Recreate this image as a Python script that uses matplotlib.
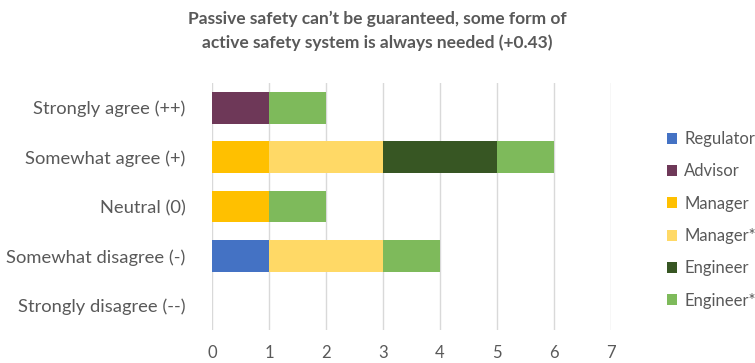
import numpy as np
import matplotlib
matplotlib.use("Agg")
import matplotlib.pyplot as plt

plt.rcParams["font.family"] = ["Lato", "DejaVu Sans"]

categories = ["Strongly agree (++)", "Somewhat agree (+)", "Neutral (0)",
              "Somewhat disagree (-)", "Strongly disagree (--)"]
roles = ["Regulator", "Advisor", "Manager", "Manager*", "Engineer", "Engineer*"]

# counts per role, ordered like categories
regulator = [0, 0, 0, 1, 0]
advisor = [1, 0, 0, 0, 0]
manager = [0, 1, 1, 0, 0]
manager_star = [0, 2, 0, 2, 0]
engineer = [0, 2, 0, 0, 0]
engineer_star = [1, 1, 1, 1, 0]

colors = ["#4472C4", "#6E3858", "#FFC000", "#FFD966", "#375623", "#7EBA5B"]
series = [regulator, advisor, manager, manager_star, engineer, engineer_star]

fig = plt.figure(figsize=(7.55, 3.63), dpi=100)
ax = fig.add_axes([212 / 755, 1 - 330 / 363, 399 / 755, 247 / 363])

y = np.arange(len(categories))
left = np.zeros(len(categories))
for name, vals, col in zip(roles, series, colors):
    vals = np.array(vals, dtype=float)
    ax.barh(y, vals, left=left, height=0.64, color=col, label=name, zorder=3)
    left += vals

ax.set_ylim(len(categories) - 0.5, -0.5)
ax.set_xlim(0, 7)
ax.set_xticks(range(8))
ax.set_yticks(y)
ax.set_yticklabels(categories)
ax.xaxis.grid(True, color="#D9D9D9", linewidth=1, zorder=0)
for s in ax.spines.values():
    s.set_visible(False)
ax.tick_params(axis="both", length=0, colors="#595959")
ax.tick_params(axis="x", pad=11, labelsize=12)
ax.tick_params(axis="y", pad=19, labelsize=13.2)

fig.text(0.5, 0.915, "Passive safety can\u2019t be guaranteed, some form of\n"
         "active safety system is always needed (+0.43)",
         ha="center", va="center", fontsize=12.5, fontweight="bold",
         color="#595959", linespacing=1.55)

leg = fig.legend(loc="upper left", bbox_to_anchor=(667 / 755, 1 - 131 / 363),
                 frameon=False, fontsize=12, handlelength=0.62, handleheight=0.62,
                 handletextpad=0.4, labelspacing=0.98, labelcolor="#595959",
                 borderpad=0, borderaxespad=0)

fig.savefig("out.png", dpi=100)
